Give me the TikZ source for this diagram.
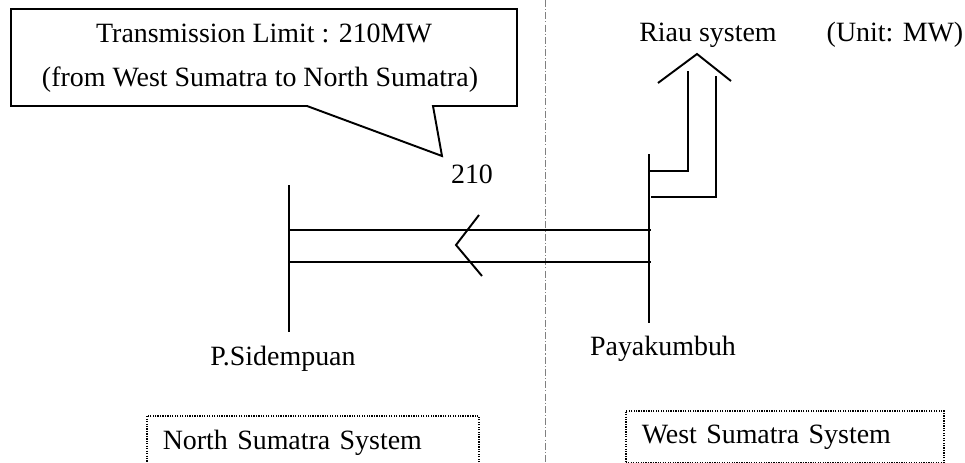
\documentclass[tikz,border=0pt]{standalone}
\usepackage{fontspec}
\setmainfont{Liberation Serif}
\usetikzlibrary{positioning, calc}

\begin{document}
\begin{tikzpicture}[x=0.02cm, y=-0.02cm,
  every node/.style={font=\fontsize{15.9}{19}\selectfont, inner sep=0pt},
  line/.style={line width=1.1pt},
  divider/.style={gray, line width=0.4pt, dash pattern=on 4pt off 1.2pt on 0.6pt off 1.2pt},
  sysbox/.style={draw, line width=0.9pt, dash pattern=on 0.7pt off 0.7pt, anchor=north west, inner xsep=0.32cm, align=left}]
\clip (0,0) rectangle (965,463);

% Divider
\coordinate (divtop) at (545,0);
\coordinate (divbot) at (545,463);
\draw[divider] (divtop) -- (divbot);

% Callout
\coordinate (tip) at (442,156);
\draw[line] (11,9) -- (517,9) -- (517,106) -- (433,106) -- (tip) -- (307,106) -- (11,106) -- cycle;
\node[anchor=base] (limit1) at (264,43) {Transmission Limit : 210MW};
\node[anchor=base] (limit2) at (260,87) {(from West Sumatra to North Sumatra)};
\node[anchor=base] (flow) at (472,183) {210};

% Buses
\coordinate (pstop) at (289,185);
\coordinate (psbot) at (289,332);
\coordinate (pktop) at (649,154);
\coordinate (pkbot) at (649,323);
\draw[line] (pstop) -- (psbot);
\draw[line] (pktop) -- (pkbot);
\node[anchor=base] (ps) at (283,365) {P.Sidempuan};
\node[anchor=base] (pk) at (663,355) {Payakumbuh};

% Tie lines
\foreach \y in {230,262}
  \draw[line] (pstop |- 0,\y) -- ($(pktop |- 0,\y)+(2,0)$);
\coordinate (fa) at (479,215);
\coordinate (fb) at (456,245);
\coordinate (fc) at (482,276);
\draw[line] (fa) -- (fb) -- (fc);

% Riau
\coordinate (tap1) at (649,171);
\coordinate (tap2) at (651,197);
\coordinate (riauin) at (688,71);
\coordinate (riauout) at (716,76);
\draw[line] (tap1) -| (riauin);
\draw[line] (tap2) -| (riauout);
\coordinate (ra) at (658,83);
\coordinate (rb) at (697,54);
\coordinate (rc) at (731,81);
\draw[line] (ra) -- (rb) -- (rc);
\node[anchor=base] (riau) at (708,41) {Riau system};
\node[anchor=base] (unit) at (895,41) {(Unit: MW)};

% Systems
\node[sysbox, text width=6cm, minimum height=1.08cm] (north) at (146,415) {North Sumatra System};
\node[sysbox, text width=5.72cm, minimum height=1.04cm] (west) at (625,410) {West Sumatra System};
\end{tikzpicture}
\end{document}
